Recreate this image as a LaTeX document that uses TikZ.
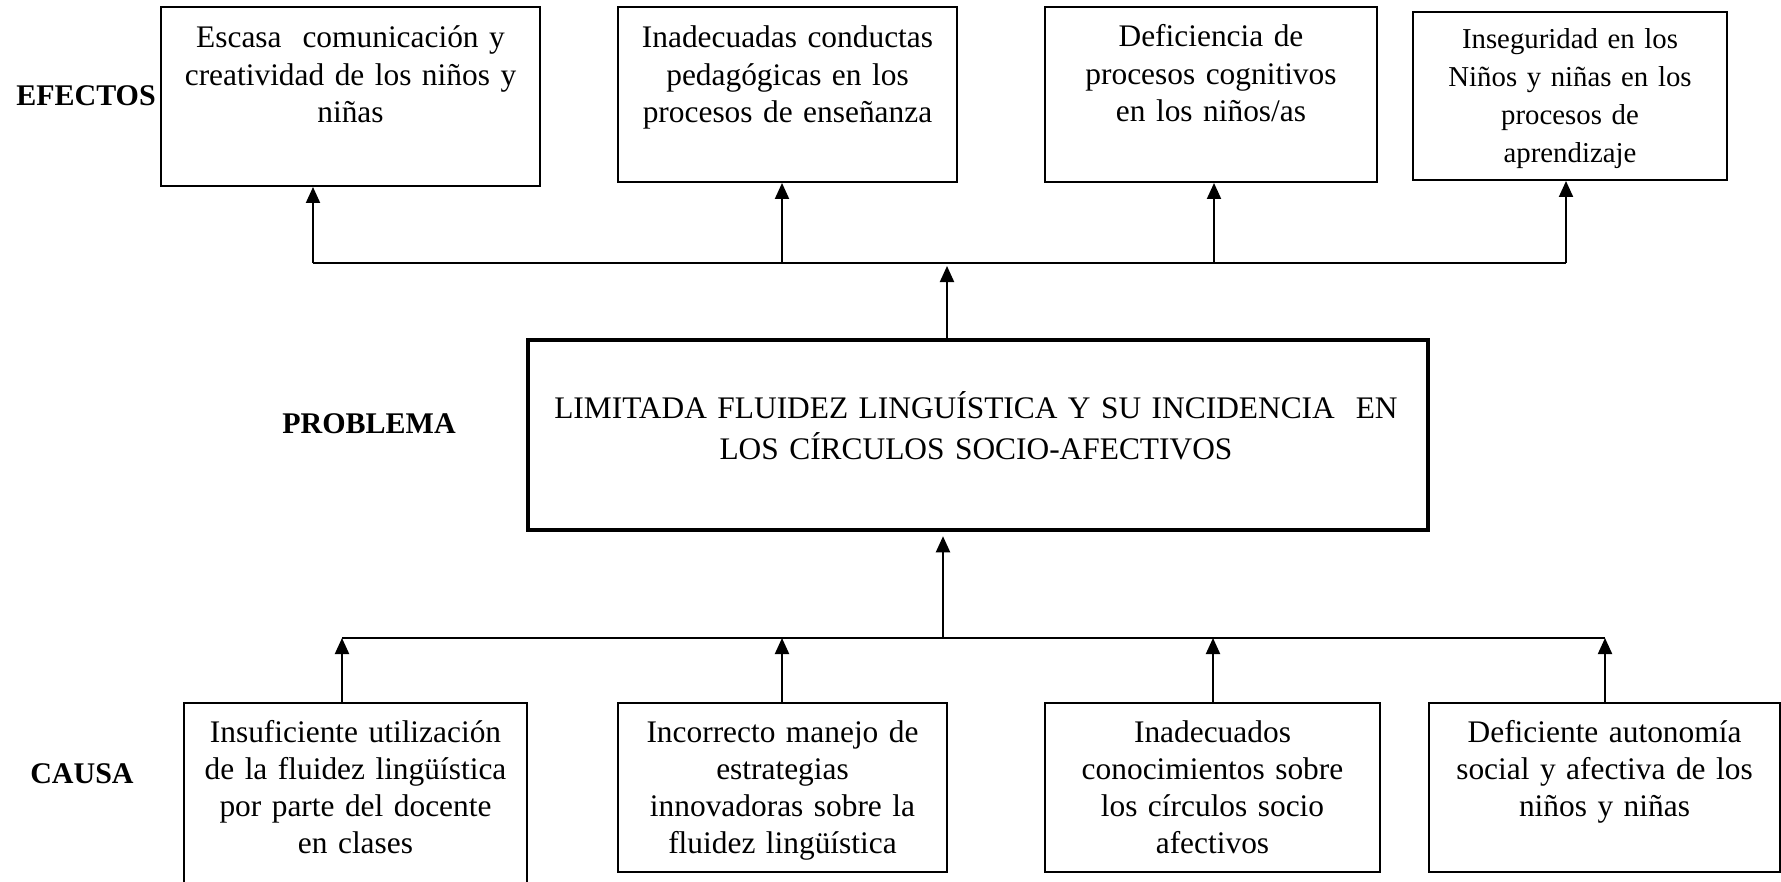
\documentclass[tikz,border=0pt]{standalone}
\usepackage{fontspec}
\setmainfont{Liberation Serif}
\usetikzlibrary{arrows.meta}
\begin{document}
\begin{tikzpicture}[x=0.5pt,y=-0.5pt,
  box/.style 2 args={draw, line width=1pt, inner sep=0pt, minimum width=#1*0.5pt, minimum height=#2*0.5pt},
  txt/.style={anchor=base, text width=#1, align=center, inner sep=0pt, font=\fontsize{15.7}{18.6}\selectfont},
  smalltxt/.style={anchor=base, text width=#1, align=center, inner sep=0pt, font=\fontsize{14.4}{19}\selectfont},
  lbl/.style={anchor=base, inner sep=0pt, font=\fontsize{15}{18}\selectfont\bfseries},
  conn/.style={line width=1pt},
  arr/.style={line width=1pt, -{Triangle[width=7pt,length=8pt]}}
]
\useasboundingbox (0,0) rectangle (1781,882);

% labels
\node[lbl] (lefe) at (86,106) {EFECTOS};
\node[lbl] (lpro) at (369,433) {PROBLEMA};
\node[lbl] (lcau) at (82,783) {CAUSA};

% effect boxes
\node[box={379}{179}] (e1) at (350.5,96.5) {};
\node[box={339}{175}] (e2) at (787.5,94.5) {};
\node[box={332}{175}] (e3) at (1211,94.5) {};
\node[box={314}{168}] (e4) at (1570,96) {};
\node[txt=185pt] (t1) at (350.5,48) {Escasa\ \ comunicación y\\creatividad de los niños y\\niñas};
\node[txt=165pt] (t2) at (787.5,48) {Inadecuadas conductas\\pedagógicas en los\\procesos de enseñanza};
\node[txt=162pt] (t3) at (1211,47) {Deficiencia de\\procesos cognitivos\\en los niños/as};
\node[smalltxt=152pt] (t4) at (1570,49) {Inseguridad en los\\Niños y niñas en los\\procesos de\\aprendizaje};

% problem box
\node[draw, line width=2.25pt, inner sep=0pt, minimum width=450pt, minimum height=95pt] (prob) at (978,435) {};
\node[anchor=base, text width=445pt, align=center, inner sep=0pt, font=\fontsize{15.7}{20.5}\selectfont] (pt) at (976,418)
  {LIMITADA FLUIDEZ LINGUÍSTICA Y SU INCIDENCIA\ \ EN\\LOS CÍRCULOS SOCIO-AFECTIVOS};

% cause boxes
\node[box={343}{181}] (c1) at (355.5,793.5) {};
\node[box={329}{169}] (c2) at (782.5,787.5) {};
\node[box={335}{169}] (c3) at (1212.5,787.5) {};
\node[box={351}{169}] (c4) at (1604.5,787.5) {};
\node[txt=168pt] (s1) at (355.5,742) {Insuficiente utilización\\de la fluidez lingüística\\por parte del docente\\en clases};
\node[txt=162pt] (s2) at (782.5,742) {Incorrecto manejo de\\estrategias\\innovadoras sobre la\\fluidez lingüística};
\node[txt=165pt] (s3) at (1212.5,742) {Inadecuados\\conocimientos sobre\\los círculos socio\\afectivos};
\node[txt=172pt] (s4) at (1604.5,742) {Deficiente autonomía\\social y afectiva de los\\niños y niñas};

% effects bus
\coordinate (eb1) at (313,263);
\coordinate (eb2) at (782,263);
\coordinate (eb3) at (1214,263);
\coordinate (eb4) at (1566,263);
\draw[conn] (eb1) -- (eb4);
\draw[arr] (eb1) -- (eb1 |- e1.south);
\draw[arr] (eb2) -- (eb2 |- e2.south);
\draw[arr] (eb3) -- (eb3 |- e3.south);
\draw[arr] (eb4) -- (eb4 |- e4.south);
\coordinate (pu) at (947,266);
\draw[arr] (pu |- prob.north) -- (pu);

% causes bus
\coordinate (cb1) at (342,638);
\coordinate (cb2) at (782,638);
\coordinate (cb3) at (1213,638);
\coordinate (cb4) at (1605,638);
\draw[conn] (cb1) -- (cb4);
\draw[arr] (cb1 |- c1.north) -- (cb1);
\draw[arr] (cb2 |- c2.north) -- (cb2);
\draw[arr] (cb3 |- c3.north) -- (cb3);
\draw[arr] (cb4 |- c4.north) -- (cb4);
\coordinate (cp) at (943,638);
\draw[arr] (cp) -- ([yshift=-2pt]cp |- prob.south);
\end{tikzpicture}
\end{document}
